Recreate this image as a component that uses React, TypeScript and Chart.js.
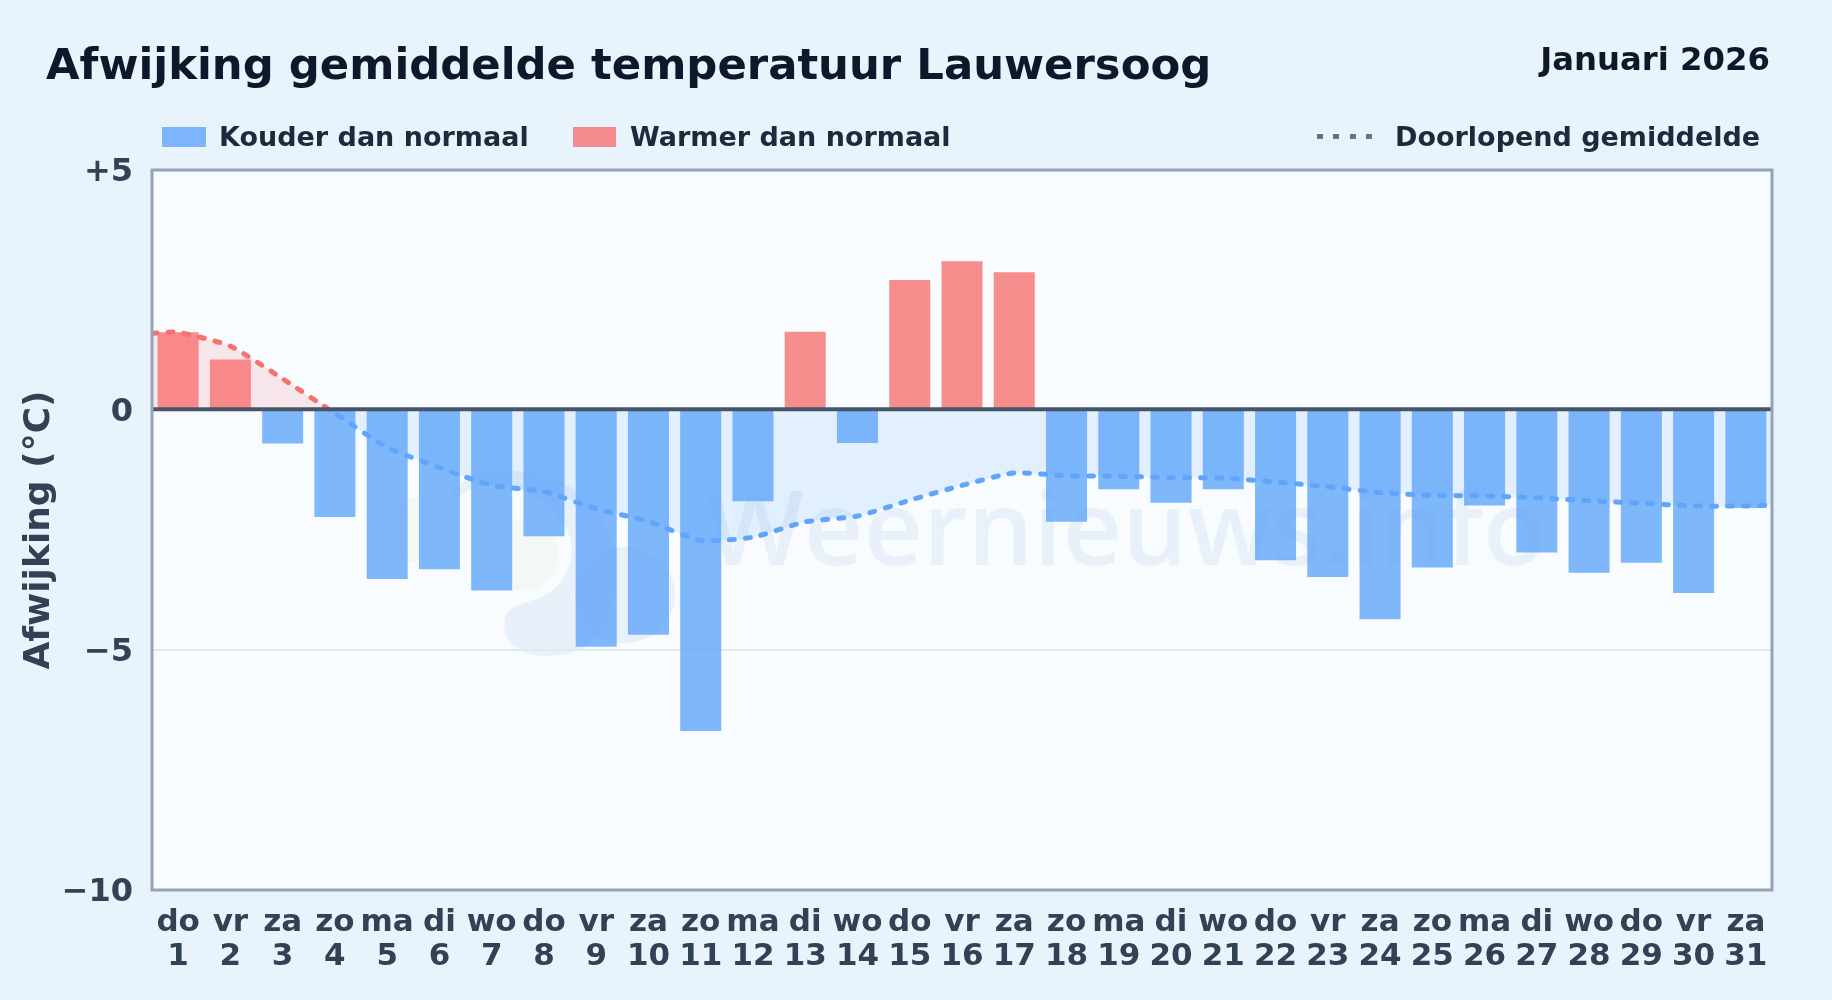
import React, { useEffect, useRef } from "react";
import { Chart, registerables } from "chart.js";

Chart.register(...registerables);

const days = [1,2,3,4,5,6,7,8,9,10,11,12,13,14,15,16,17,18,19,20,21,22,23,24,25,26,27,28,29,30,31];
const weekdays = ["do","vr","za","zo","ma","di","wo","do","vr","za","zo","ma","di","wo","do","vr","za","zo","ma","di","wo","do","vr","za","zo","ma","di","wo","do","vr","za"];
const deviations = [1.62,1.05,-0.7,-2.23,-3.52,-3.32,-3.76,-2.63,-4.93,-4.68,-6.69,-1.9,1.63,-0.69,2.71,3.1,2.87,-2.33,-1.65,-1.93,-1.65,-3.13,-3.48,-4.36,-3.28,-1.99,-2.97,-3.39,-3.18,-3.81,-2.04];
const runningDays = [0.5,1,2,3,4,5,6,7,8,9,10,11,12,13,14,15,16,17,18,19,20,21,22,23,24,25,26,27,28,29,30,31,31.5];
const runningMean = [1.6,1.62,1.33,0.65,-0.07,-0.78,-1.2,-1.57,-1.7,-2.06,-2.32,-2.72,-2.65,-2.33,-2.21,-1.88,-1.57,-1.31,-1.37,-1.38,-1.41,-1.42,-1.5,-1.6,-1.72,-1.78,-1.79,-1.83,-1.89,-1.94,-2.0,-2.0,-1.98];
const yTickLabels: Record<string, string> = { "5": "+5", "0": "0", "-5": "\u22125", "-10": "\u221210" };

const FONT = '"DejaVu Sans", sans-serif';
const COLD = "rgba(96,165,250,0.8)";
const WARM = "rgba(248,113,113,0.8)";

const plotFrame = {
  id: "plotFrame",
  beforeDraw(chart: any) {
    const { ctx, chartArea: a } = chart;
    ctx.save();
    ctx.fillStyle = "#f8fcff";
    ctx.fillRect(a.left, a.top, a.right - a.left, a.bottom - a.top);
    ctx.beginPath();
    ctx.rect(a.left, a.top, a.right - a.left, a.bottom - a.top);
    ctx.clip();
    // watermark: sun
    ctx.fillStyle = "rgba(190,215,120,0.09)";
    ctx.beginPath(); ctx.arc(522, 555, 36, 0, Math.PI * 2); ctx.fill();
    ctx.beginPath(); ctx.arc(415, 530, 32, 0, Math.PI * 2); ctx.fill();
    // watermark: drop shapes
    ctx.fillStyle = "rgba(100,150,200,0.10)";
    ctx.beginPath();
    ctx.moveTo(505, 620);
    ctx.bezierCurveTo(510, 595, 545, 610, 565, 575);
    ctx.bezierCurveTo(580, 550, 570, 520, 540, 500);
    ctx.bezierCurveTo(505, 480, 480, 480, 462, 495);
    ctx.bezierCurveTo(440, 510, 455, 470, 500, 470);
    ctx.bezierCurveTo(580, 470, 625, 520, 615, 590);
    ctx.bezierCurveTo(605, 640, 590, 655, 545, 656);
    ctx.bezierCurveTo(520, 656, 500, 640, 505, 620);
    ctx.closePath();
    ctx.fill();
    ctx.beginPath(); ctx.ellipse(625, 595, 50, 48, 0, 0, Math.PI * 2); ctx.fill();
    ctx.fillStyle = "rgba(100,150,200,0.10)";
    ctx.font = '600 103.5px "Open Sans", sans-serif';
    ctx.textBaseline = "alphabetic";
    ctx.textAlign = "left";
    ctx.fillText("Weernieuws.info", 706, 565);
    ctx.restore();
  },
  afterDatasetsDraw(chart: any) {
    const { ctx, chartArea: a, scales } = chart;
    const zero = scales.y.getPixelForValue(0) - 0.7;
    ctx.save();
    ctx.strokeStyle = "#475569";
    ctx.lineWidth = 4;
    ctx.beginPath();
    ctx.moveTo(a.left, zero);
    ctx.lineTo(a.right, zero);
    ctx.stroke();
    ctx.strokeStyle = "#94a3b8";
    ctx.lineWidth = 3;
    ctx.strokeRect(a.left, a.top, a.right - a.left, a.bottom - a.top);
    ctx.restore();
  },
};

function signGradient(ctx: any) {
  const chart = ctx.chart;
  const a = chart.chartArea;
  if (!a) return "#60a5fa";
  const g = chart.ctx.createLinearGradient(0, a.top, 0, a.bottom);
  const z = (chart.scales.y.getPixelForValue(0) - a.top) / (a.bottom - a.top);
  g.addColorStop(0, "#f87171");
  g.addColorStop(z, "#f87171");
  g.addColorStop(z, "#60a5fa");
  g.addColorStop(1, "#60a5fa");
  return g;
}

const textBase: React.CSSProperties = {
  position: "absolute",
  fontFamily: FONT,
  fontWeight: 700,
  whiteSpace: "nowrap",
  lineHeight: 1,
};

export default function App() {
  const ref = useRef<HTMLCanvasElement | null>(null);
  useEffect(() => {
    const chart = new Chart(ref.current as HTMLCanvasElement, {
      type: "bar",
      data: {
        datasets: [
          {
            type: "line",
            label: "Doorlopend gemiddelde",
            data: runningDays.map((d, i) => ({ x: d, y: runningMean[i] })),
            borderColor: signGradient as any,
            borderWidth: 5,
            borderDash: [5, 11],
            borderCapStyle: "round",
            tension: 0.18,
            pointRadius: 0,
            order: 0,
            fill: { target: { value: 0 }, above: "rgba(248,113,113,0.15)", below: "rgba(96,165,250,0.15)" },
          } as any,
          {
            type: "bar",
            label: "Afwijking",
            data: days.map((d, i) => ({ x: d, y: deviations[i] })),
            backgroundColor: deviations.map((v) => (v < 0 ? COLD : WARM)),
            barPercentage: 0.785,
            categoryPercentage: 1,
            order: 1,
          } as any,
        ],
      },
      options: {
        responsive: false,
        animation: false,
        devicePixelRatio: 1,
        layout: { padding: { top: 170, right: 60, left: 0, bottom: 0 } },
        plugins: {
          legend: { display: false },
          title: { display: false },
          tooltip: { enabled: false },
          filler: { drawTime: "beforeDatasetsDraw" },
        } as any,
        scales: {
          x: {
            type: "linear",
            offset: false,
            min: 0.5,
            max: 31.5,
            afterBuildTicks: (axis: any) => {
              axis.ticks = days.map((d) => ({ value: d }));
            },
            afterFit: (axis: any) => {
              axis.height = 110;
            },
            grid: { display: false },
            border: { display: false },
            ticks: {
              autoSkip: false,
              maxRotation: 0,
              padding: 8,
              color: "#334155",
              font: { family: FONT, size: 31, weight: "bold", lineHeight: 1.1 },
              callback: (v: any) => [weekdays[Number(v) - 1], String(v)],
            },
          } as any,
          y: {
            min: -10,
            max: 5,
            afterFit: (axis: any) => {
              axis.width = 152;
            },
            border: { display: false },
            grid: {
              drawTicks: false,
              lineWidth: 2,
              color: (c: any) => (c.tick.value === -5 ? "#e2e8f0" : "transparent"),
            },
            ticks: {
              stepSize: 5,
              padding: 19,
              labelOffset: 2.5,
              color: "#334155",
              font: { family: FONT, size: 32, weight: "bold" },
              callback: (v: any) => yTickLabels[String(v)],
            },
            title: {
              display: true,
              text: "Afwijking (\u00B0C)",
              color: "#334155",
              font: { family: FONT, size: 36, weight: "bold" },
              padding: { top: 18, bottom: 0 },
            },
          } as any,
        },
      },
      plugins: [plotFrame],
    } as any);
    return () => chart.destroy();
  }, []);

  return (
    <div style={{ position: "fixed", left: 0, top: 0, width: 1832, height: 1000, background: "#e8f3fc", overflow: "hidden" }}>
      <canvas ref={ref} width={1832} height={1000} style={{ position: "absolute", left: 0, top: 0, width: 1832, height: 1000 }} />
      <div style={{ ...textBase, left: 46, top: 43, fontSize: 43.35, color: "#0f172a" }}>Afwijking gemiddelde temperatuur Lauwersoog</div>
      <div style={{ ...textBase, right: 62, top: 43, fontSize: 32.3, color: "#0f172a" }}>Januari 2026</div>
      <div style={{ position: "absolute", left: 162, top: 127, width: 44, height: 20, background: COLD }} />
      <div style={{ ...textBase, left: 219, top: 122.5, fontSize: 27, color: "#1e293b" }}>Kouder dan normaal</div>
      <div style={{ position: "absolute", left: 573, top: 127, width: 43, height: 20, background: WARM }} />
      <div style={{ ...textBase, left: 630, top: 122.5, fontSize: 27, color: "#1e293b" }}>Warmer dan normaal</div>
      <div style={{ position: "absolute", left: 1317, top: 134, width: 57, height: 5, background: "repeating-linear-gradient(90deg,#64748b 0 6px,transparent 6px 16.5px)" }} />
      <div style={{ ...textBase, left: 1395, top: 122.5, fontSize: 27, color: "#1e293b" }}>Doorlopend gemiddelde</div>
    </div>
  );
}
